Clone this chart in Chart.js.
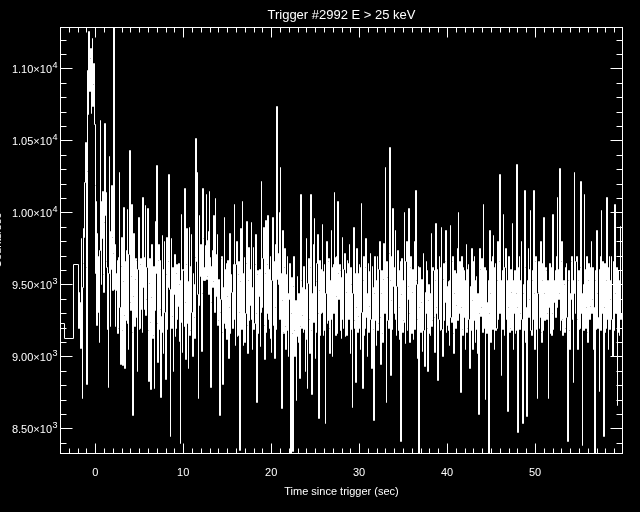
<!DOCTYPE html>
<html><head><meta charset="utf-8">
<script src="https://cdn.jsdelivr.net/npm/chart.js@4.4.0/dist/chart.umd.min.js"></script>
<style>html,body{margin:0;padding:0;background:#000;overflow:hidden}canvas{display:block}</style>
</head><body><canvas id="c" width="640" height="512"></canvas>
<script>
const chartTitle = "Trigger #2992 E > 25 keV";
const xTitle = "Time since trigger (sec)";
const yTitle = "Counts/sec";
const xRange = [-4, 60];
const yRange = [8322, 11287];
const xTickValues = [0, 10, 20, 30, 40, 50];
const xTickLabels = ["0", "10", "20", "30", "40", "50"];
const yTickValues = [8500, 9000, 9500, 10000, 10500, 11000];
const yTickMantissa = ["8.50", "9.00", "9.50", "1.00", "1.05", "1.10"];
const yTickExponent = ["3", "3", "3", "4", "4", "4"];

// pre-trigger 1.024 s bins (left edges) and counts
const coarseTimes = [-4.55, -3.53, -2.50];
const coarseCounts = [9235, 9125, 9640];

// fine bins after -1.92 s, 0.064 s wide
const fineStart = -1.92;
const fineBin = 0.064;
const fineCounts = [
9200,9450,9380,9060,9820,9310,8710,9480,9650,9890,9830,10210,10490,9620,8810,10290,
10990,10680,11260,10840,11070,11140,10690,10960,11210,10740,10890,11040,10610,10190,9580,10080,
9220,9860,9700,9310,9100,9740,10640,10080,9500,9820,10150,9570,9450,9930,10620,9980,
10140,9660,9620,9190,8790,9580,10390,9870,9210,9610,10190,9830,9460,9720,11450,9470,
9780,9210,9460,9580,9670,9160,9200,9690,10280,9340,8950,9630,9830,9180,8940,9520,
10040,9290,8920,9660,9250,9740,10020,9230,9050,9710,10430,9380,9320,9560,10060,9170,
8590,9420,9860,9210,9540,9680,9670,9270,8900,9610,9970,9190,9200,9640,9680,9330,
9600,9170,10110,9480,9330,9690,10050,9290,9400,9620,10030,9180,8830,9510,9680,9240,
8770,9410,9780,9130,9150,9630,8780,9320,9940,9580,10330,9230,8960,9670,9780,9190,
9670,9330,8715,9280,9840,9170,9020,9610,9800,9310,8840,9570,9830,9190,9480,9660,
10265,9470,8450,9330,9820,9200,9280,9620,8900,9430,9710,9140,9200,9580,9640,9260,
9350,9650,9500,9110,8400,9530,9990,9240,9030,9610,9600,9210,10170,9380,8980,9640,
9890,9230,8920,9520,9900,9150,9180,9630,9850,9310,9000,9580,9500,9270,9130,9690,
10513,9660,10280,9430,8712,9360,9980,9610,9560,9780,9040,9440,10170,9820,9530,9620,
9530,9770,10130,9540,9560,9810,9870,9430,10150,9690,8790,9380,9630,9740,9480,9520,
9980,9310,10100,9580,9420,9710,9850,9220,9250,9540,8590,9310,9400,9680,9700,9170,
8810,9480,9970,9230,9200,9610,9650,9120,9420,9670,8990,9340,9860,9160,9480,9570,
9450,9200,9640,9530,10060,9260,9080,9640,9800,9140,9150,9570,9660,9310,8350,9520,
9890,9190,10080,9580,9080,9340,9690,9100,9300,9650,9940,9220,9020,9530,9760,9250,
9360,9610,9930,9260,9050,9480,9760,9190,9230,9640,9850,9300,8684,9570,9600,9160,
9420,9610,9070,9310,10217,9440,9340,9680,9900,9220,8980,9580,9950,9170,9300,9640,
9980,9260,9200,9610,9700,9130,9030,9530,9970,9220,9400,9660,8990,9340,9780,9190,
10737,9540,9500,9720,10000,9260,10316,9580,8640,9390,9880,9170,9160,9620,9750,9210,
9050,9570,9700,9180,9000,9440,9400,9650,8305,9300,9550,9160,8340,9490,9700,9180,
9000,9390,8700,9230,9560,9140,9100,9440,8850,9210,10126,9530,9200,9290,9480,9170,
9630,9190,8900,9470,9820,9120,8780,9510,9680,9260,9020,9620,10126,9180,8740,9440,
9780,9240,9960,9490,8990,9170,9520,9650,9850,9300,8573,9460,9670,9150,9300,9610,
9920,9310,9150,9590,9640,9180,8538,9440,9800,9230,9250,9660,9680,9200,9020,9530,
9880,9260,9000,9620,9640,9300,10143,9690,9150,9420,9700,9160,10080,9580,9400,9640,
9600,9180,9130,9550,9830,9260,9200,9610,9720,9140,9580,9450,9150,9670,9650,9260,
9780,9300,9020,9620,9500,9190,8650,9440,9900,9250,9200,9580,8820,9340,9750,9170,
9280,9580,9640,9200,9050,9620,10064,9310,8780,9530,9700,9150,9200,9620,9820,9270,
9000,9440,9650,9170,9350,9590,9720,9260,8920,9630,9480,9190,8560,9440,9700,9250,
9080,9530,9700,9180,9230,9610,9800,9270,8950,9440,9600,9160,9100,9540,9790,9300,
10316,9450,8684,9660,9550,9250,9200,9720,10453,9530,8870,9390,9700,9190,10031,9490,
9300,9620,9880,9260,9150,9490,9740,9180,9600,9340,9120,9660,8411,9430,9680,9170,
9250,9530,10000,9240,9090,9660,9800,9180,9400,9490,10031,9300,9100,9620,9700,9160,
9450,9610,9120,9390,9800,9190,10154,9530,9500,9260,8990,9630,8330,9340,9620,9170,
9380,9540,9040,9300,9720,9180,8930,9450,9300,9660,9600,9200,8900,9390,9500,9160,
9150,9440,9860,9210,9250,9620,9600,9270,9030,9530,9923,9340,9300,9610,8835,9260,
9700,9340,9180,9620,9900,9190,9000,9540,9650,9250,9380,9660,9880,9170,9220,9490,
9520,9180,9080,9530,9910,9270,9240,9660,9700,9160,9020,9440,9600,9200,9360,9580,
9750,9250,10000,9530,9300,9660,8753,9340,9700,9190,9150,9620,9600,9270,9050,9530,
9780,9170,9200,9610,9640,9260,8920,9490,9480,9180,9750,9390,9050,9660,9700,9250,
9100,9530,9560,9190,9020,9440,8603,9300,9750,9610,9280,9340,9680,9170,10061,9440,
9200,9620,8707,9340,9600,9160,9380,9530,8320,9300,9877,9440,9100,9660,9700,9190,
9840,9390,9050,9620,9650,9180,9200,9530,9800,9260,9300,9660,10265,9300,8870,9530,
9600,9190,9990,9440,9150,9620,9750,9260,9300,9530,8622,9340,9700,9170,9200,9610,
9450,9180,9925,9530,9050,9300,9600,9160,9180,9440,10339,9340,8476,9620,9700,9190,
9300,9530,9800,9260,8538,9440,9500,9180,10154,9620,9100,9340,8587,9530,9750,9270,
9400,9610,10015,9180,9150,9530,9600,9260,10154,9440,9050,9660,9700,9190,8712,9440,
9450,9660,9200,9270,9800,9170,9100,9530,9650,9180,9965,9440,9250,9620,9600,9260,
9300,9530,8712,9340,9650,9160,9400,9620,9150,9300,9990,9190,9380,9530,9600,9270,
9700,9340,10110,9610,9400,9440,10311,9180,9250,9660,9800,9260,9150,9530,9500,9170,
9200,9620,9650,9270,8411,9530,9600,9180,9050,9440,9400,9660,9700,9260,8820,9530,
10279,9440,9300,9660,9700,9260,9050,9530,9600,9190,9200,9620,10217,9300,8383,9440,
9500,9180,10130,9610,9200,9340,9700,9170,9100,9530,9650,9260,9350,9620,9800,9300,
9400,9620,9050,9340,8305,9530,9600,9190,9877,9440,9200,9270,8760,9610,9700,9180,
10015,9440,9300,9660,8445,9340,9650,9170,9200,9530,10110,9260,9050,9620,9700,9190,
9400,9530,9700,9260,9000,9660,9550,9180,10061,9440,9300,9620,8660,9340,9600,9170,
9150,9530,9905,9260,9300,9620,9600,9340
];

const points = [];
coarseTimes.forEach((t, i) => points.push({x: t, y: coarseCounts[i]}));
fineCounts.forEach((v, i) => points.push({x: fineStart + i * fineBin, y: v}));
points.push({x: fineStart + fineCounts.length * fineBin, y: fineCounts[fineCounts.length - 1]});

const FONT = '"Liberation Sans", Arial, sans-serif';

// snap the dataset path to device pixels for crisp, IDL-like 1px lines
const snap = v => Math.round(v) + 0.5;
const pixelSnap = {
  id: 'pixelSnap',
  beforeDatasetsDraw(chart) {
    const ctx = chart.ctx;
    const oL = ctx.lineTo, oM = ctx.moveTo;
    ctx._o = [oL, oM];
    ctx.lineTo = function (x, y) { oL.call(ctx, snap(x), snap(y)); };
    ctx.moveTo = function (x, y) { oM.call(ctx, snap(x), snap(y)); };
    if (typeof Path2D === 'function') {
      const P = Path2D.prototype;
      P._o = [P.lineTo, P.moveTo];
      const pL = P.lineTo, pM = P.moveTo;
      P.lineTo = function (x, y) { pL.call(this, snap(x), snap(y)); };
      P.moveTo = function (x, y) { pM.call(this, snap(x), snap(y)); };
    }
  },
  afterDatasetsDraw(chart) {
    const ctx = chart.ctx;
    if (ctx._o) { delete ctx.lineTo; delete ctx.moveTo; ctx._o = null; }
    if (typeof Path2D === 'function' && Path2D.prototype._o) {
      const P = Path2D.prototype;
      P.lineTo = P._o[0]; P.moveTo = P._o[1]; P._o = null;
    }
  }
};

const idlFrame = {
  id: 'idlFrame',
  beforeDraw(chart) {
    const ctx = chart.ctx;
    ctx.save();
    ctx.fillStyle = '#000';
    ctx.fillRect(0, 0, chart.width, chart.height);
    ctx.restore();
  },
  afterDraw(chart) {
    const ctx = chart.ctx;
    const a = chart.chartArea;
    const xs = chart.scales.x, ys = chart.scales.y;
    ctx.save();
    ctx.strokeStyle = '#fff';
    ctx.fillStyle = '#fff';
    ctx.lineWidth = 1;
    const L = Math.round(a.left) + 0.5, R = Math.round(a.right) - 0.5;
    const T = Math.round(a.top) + 0.5, B = Math.round(a.bottom) - 0.5;
    ctx.strokeRect(L, T, R - L, B - T);
    ctx.beginPath();
    for (let v = Math.ceil(xRange[0]); v <= xRange[1]; v += 1) {
      const px = Math.round(xs.getPixelForValue(v)) + 0.5;
      if (px <= L + 0.5 || px >= R - 0.5) continue;
      const len = (v % 10 === 0) ? 10 : 5;
      ctx.moveTo(px, B); ctx.lineTo(px, B - len);
      ctx.moveTo(px, T); ctx.lineTo(px, T + len);
    }
    for (let v = Math.ceil(yRange[0] / 100) * 100; v <= yRange[1]; v += 100) {
      const py = Math.round(ys.getPixelForValue(v)) + 0.5;
      const len = (v % 500 === 0) ? 12 : 6;
      ctx.moveTo(L, py); ctx.lineTo(L + len, py);
      ctx.moveTo(R, py); ctx.lineTo(R - len, py);
    }
    ctx.stroke();

    ctx.font = '11px ' + FONT;
    ctx.textAlign = 'center';
    ctx.textBaseline = 'middle';
    xTickValues.forEach((v, i) => {
      ctx.fillText(xTickLabels[i], xs.getPixelForValue(v), a.bottom + 19);
    });
    yTickValues.forEach((v, i) => {
      const py = ys.getPixelForValue(v);
      ctx.font = '11px ' + FONT;
      const main = yTickMantissa[i] + '\u00d710';
      const w1 = ctx.measureText(main).width;
      ctx.font = '9px ' + FONT;
      const w2 = ctx.measureText(yTickExponent[i]).width;
      const right = a.left - 3;
      const start = right - w1 - w2;
      ctx.textAlign = 'left';
      ctx.font = '11px ' + FONT;
      ctx.fillText(main, start, py + 2);
      ctx.font = '9px ' + FONT;
      ctx.fillText(yTickExponent[i], start + w1 + 0.5, py - 3);
    });
    ctx.textAlign = 'center';
    ctx.font = '13px ' + FONT;
    ctx.fillText(chartTitle, (a.left + a.right) / 2, 15);
    ctx.font = '11px ' + FONT;
    ctx.fillText(xTitle, (a.left + a.right) / 2, 492);
    ctx.save();
    ctx.translate(1, (a.top + a.bottom) / 2);
    ctx.rotate(-Math.PI / 2);
    ctx.textBaseline = 'alphabetic';
    ctx.fillText(yTitle, 0, 0);
    ctx.restore();
    ctx.restore();
  }
};

new Chart(document.getElementById('c'), {
  type: 'line',
  data: {
    datasets: [{
      data: points,
      stepped: true,
      borderColor: '#ffffff',
      borderWidth: 1,
      pointRadius: 0,
      fill: false,
      tension: 0,
      segment: {}
    }]
  },
  options: {
    responsive: false,
    animation: false,
    events: [],
    layout: { padding: { left: 60, right: 17, top: 27, bottom: 58 } },
    scales: {
      x: { type: 'linear', min: xRange[0], max: xRange[1], display: false },
      y: { type: 'linear', min: yRange[0], max: yRange[1], display: false }
    },
    plugins: { legend: { display: false }, tooltip: { enabled: false }, title: { display: false } }
  },
  plugins: [pixelSnap, idlFrame]
});
</script>
</body></html>
